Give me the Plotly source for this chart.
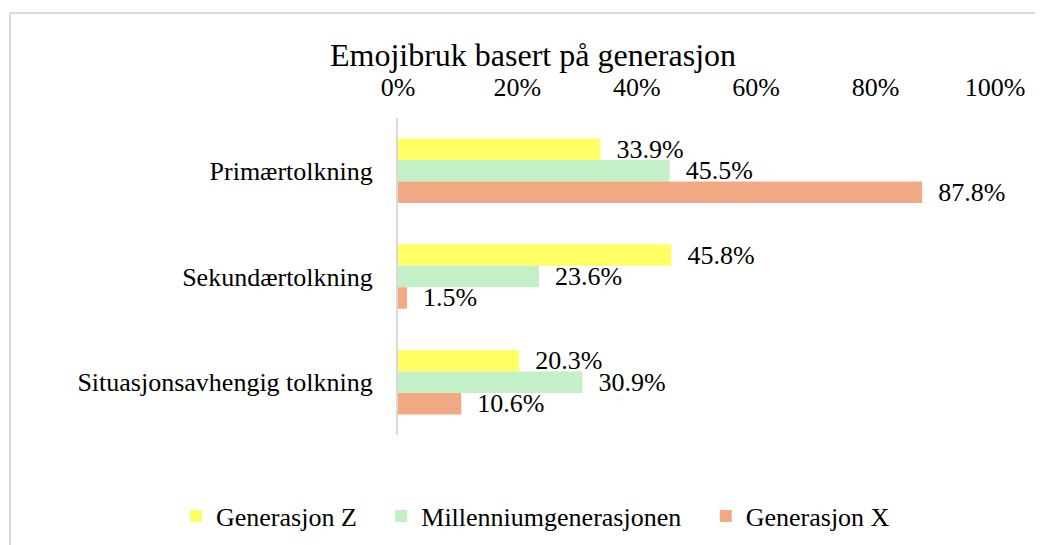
import plotly.graph_objects as go

categories = ["Primærtolkning", "Sekundærtolkning", "Situasjonsavhengig tolkning"]
series_names = ["Generasjon Z", "Millenniumgenerasjonen", "Generasjon X"]
gen_z = [33.9, 45.8, 20.3]
millennium = [45.5, 23.6, 30.9]
gen_x = [87.8, 1.5, 10.6]
colors = ["#FFFF66", "#C4F0C8", "#F1A983"]
x_ticks = [0, 20, 40, 60, 80, 100]
x_tick_labels = [f"{v}%" for v in x_ticks]

FONT = "Liberation Serif"
OFF = 8  # page body margin
NB = "\u00a0"

fig = go.Figure()
for i, (name, vals, col) in enumerate(zip(series_names, [gen_z, millennium, gen_x], colors)):
    legend_name = name + (NB * 3 if i < len(series_names) - 1 else "")
    fig.add_trace(go.Bar(
        y=categories, x=vals, name=legend_name, orientation="h",
        marker=dict(color=col, line=dict(width=0)),
        texttemplate=NB * 2 + "%{x:.1f}%",
        textposition="outside", constraintext="none", cliponaxis=False,
        textfont=dict(family=FONT, size=26, color="#000000"),
    ))

W, H = 1043 - OFF, 545 - OFF
L = 398 - OFF
T = 118 - OFF
R = W - (995 - OFF)
B = H - (435 - OFF)
pw, ph = W - L - R, H - T - B

def px_x(px):
    return (px - OFF - L) / pw

def px_y(py):
    return (H - B - (py - OFF)) / ph

fig.update_layout(
    width=W, height=H,
    margin=dict(l=L, r=R, t=T, b=B, autoexpand=False),
    paper_bgcolor="white", plot_bgcolor="white",
    barmode="group", bargap=0.39, bargroupgap=0,
    font=dict(family=FONT, size=26, color="#000000"),
    title=dict(text="Emojibruk basert på generasjon", x=px_x(533), xref="paper",
               xanchor="center", y=1 - (55 - OFF) / H, yanchor="middle",
               font=dict(family=FONT, size=32, color="#000000")),
    xaxis=dict(range=[0, 100], side="top", tickvals=x_ticks, ticktext=x_tick_labels,
               showgrid=False, zeroline=False, showline=False, ticks="",
               ticklabelstandoff=16, tickfont=dict(family=FONT, size=26)),
    yaxis=dict(autorange="reversed", showgrid=False, zeroline=False,
               showline=True, linecolor="#D9D9D9", linewidth=2, ticks="",
               ticklabelstandoff=18, tickfont=dict(family=FONT, size=26)),
    legend=dict(orientation="h", xref="paper", x=px_x(176), xanchor="left",
                yref="paper", y=px_y(516), yanchor="middle",
                font=dict(family=FONT, size=26),
                itemwidth=30, traceorder="normal"),
    showlegend=True,
    shapes=[
        dict(type="line", xref="paper", yref="paper", x0=px_x(10), x1=px_x(1050),
             y0=px_y(13), y1=px_y(13), line=dict(color="#D9D9D9", width=2)),
        dict(type="line", xref="paper", yref="paper", x0=px_x(10), x1=px_x(10),
             y0=px_y(13), y1=px_y(550), line=dict(color="#D9D9D9", width=2)),
    ],
)

fig.write_html("out.html")
